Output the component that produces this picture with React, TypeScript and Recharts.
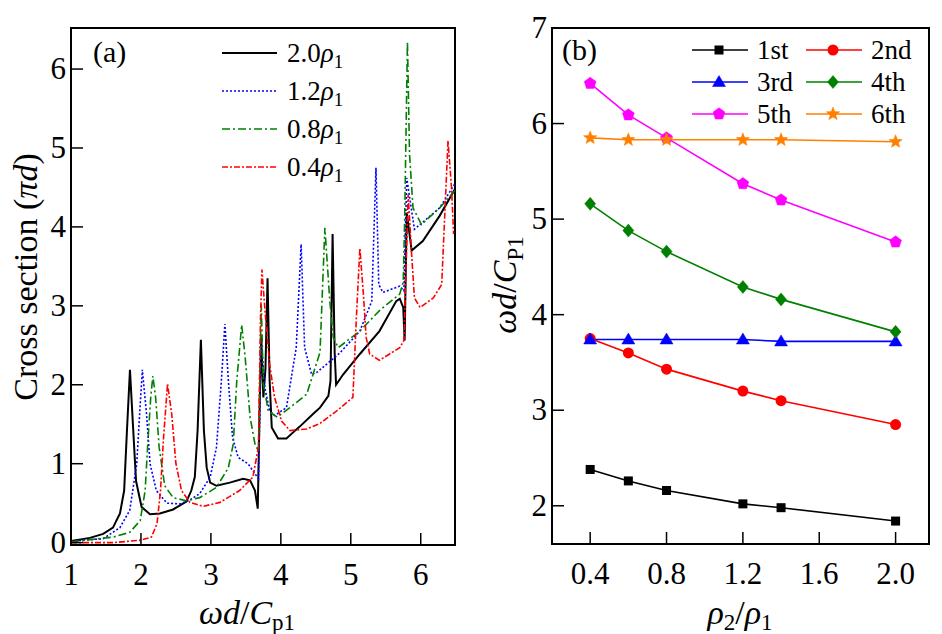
import React from "react"
import { LineChart, Line, XAxis, YAxis, ReferenceArea } from "recharts"

// ---- panel (a): cross section vs. omega d / Cp1, [x, y] pairs
const rho20 = [
    [1.0, 0.02], [1.27, 0.06], [1.46, 0.11], [1.6, 0.19], [1.7, 0.37], [1.76, 0.66], [1.8, 1.42],
    [1.843, 2.19], [1.89, 1.42], [1.93, 0.78], [2.01, 0.45], [2.13, 0.36], [2.27, 0.37], [2.46, 0.42],
    [2.65, 0.52], [2.72, 0.66], [2.77, 0.83], [2.81, 1.42], [2.857, 2.57], [2.9, 1.42], [2.94, 0.95],
    [2.99, 0.76], [3.08, 0.72], [3.27, 0.76], [3.46, 0.81], [3.56, 0.79], [3.63, 0.66], [3.67, 0.43],
    [3.7, 1.84], [3.72, 2.6], [3.75, 1.84], [3.78, 2.2], [3.81, 3.35], [3.84, 2.05], [3.87, 1.46],
    [3.96, 1.32], [4.08, 1.32], [4.18, 1.4], [4.27, 1.47], [4.46, 1.63], [4.56, 1.71], [4.68, 1.86],
    [4.71, 2.05], [4.74, 3.91], [4.77, 2.4], [4.79, 2.0], [4.89, 2.13], [5.13, 2.39], [5.41, 2.68],
    [5.65, 3.06], [5.7, 3.09], [5.75, 2.98], [5.77, 2.56], [5.8, 4.18], [5.87, 3.7], [6.03, 3.82],
    [6.27, 4.14], [6.49, 4.48],
]
const rho12 = [
    [1.0, 0.02], [1.46, 0.05], [1.7, 0.19], [1.84, 0.41], [1.94, 1.0], [1.99, 1.76], [2.02, 2.19],
    [2.08, 1.63], [2.13, 1.0], [2.22, 0.66], [2.37, 0.5], [2.56, 0.49], [2.7, 0.54], [2.84, 0.62],
    [2.99, 0.83], [3.08, 1.21], [3.15, 2.05], [3.2, 2.77], [3.25, 2.05], [3.31, 1.33], [3.39, 1.08],
    [3.53, 1.0], [3.68, 0.81], [3.72, 2.56], [3.77, 1.97], [3.84, 1.67], [3.91, 1.61], [4.08, 1.71],
    [4.22, 2.47], [4.29, 3.78], [4.34, 2.47], [4.44, 2.13], [4.52, 2.16], [4.84, 2.4], [5.13, 2.68],
    [5.3, 3.06], [5.36, 4.75], [5.4, 3.27], [5.46, 3.17], [5.7, 3.25], [5.76, 3.19], [5.8, 4.62],
    [5.91, 3.97], [5.99, 4.03], [6.27, 4.24], [6.49, 4.55],
]
const rho08 = [
    [1.0, 0.01], [1.6, 0.07], [1.84, 0.13], [1.99, 0.28], [2.06, 0.66], [2.1, 1.29], [2.14, 1.84],
    [2.17, 2.11], [2.21, 1.84], [2.26, 1.21], [2.34, 0.72], [2.46, 0.57], [2.65, 0.53], [2.84, 0.57],
    [3.08, 0.7], [3.25, 0.95], [3.32, 1.25], [3.37, 2.05], [3.44, 2.76], [3.49, 2.35], [3.56, 1.59],
    [3.63, 1.25], [3.68, 1.16], [3.72, 3.02], [3.75, 2.01], [3.82, 1.67], [3.95, 1.59], [4.13, 1.71],
    [4.37, 1.88], [4.56, 2.41], [4.63, 3.99], [4.7, 3.06], [4.75, 2.6], [4.82, 2.47], [5.13, 2.68],
    [5.41, 2.94], [5.7, 3.15], [5.75, 3.3], [5.77, 4.08], [5.81, 6.35], [5.84, 4.92], [5.89, 4.24],
    [6.01, 4.03], [6.27, 4.24], [6.49, 4.46],
]
const rho04 = [
    [1.0, 0.0], [1.6, 0.0], [1.99, 0.03], [2.15, 0.07], [2.23, 0.24], [2.28, 0.66], [2.32, 1.29],
    [2.38, 2.01], [2.44, 1.63], [2.5, 1.0], [2.58, 0.66], [2.7, 0.51], [2.89, 0.46], [3.13, 0.51],
    [3.41, 0.66], [3.6, 0.83], [3.68, 1.21], [3.71, 2.89], [3.73, 3.46], [3.77, 2.98], [3.84, 2.26],
    [3.91, 1.84], [4.01, 1.54], [4.13, 1.42], [4.37, 1.44], [4.56, 1.51], [4.8, 1.67], [5.03, 1.84],
    [5.08, 2.85], [5.13, 3.73], [5.18, 3.15], [5.22, 2.6], [5.27, 2.39], [5.41, 2.31], [5.7, 2.47],
    [5.76, 2.56], [5.82, 4.41], [5.87, 3.65], [5.91, 3.1], [5.99, 2.98], [6.18, 3.1], [6.3, 3.27],
    [6.34, 4.08], [6.39, 5.09], [6.44, 4.5], [6.47, 3.91],
]
const xTicksA = [1, 2, 3, 4, 5, 6]
const yTicksA = [0, 1, 2, 3, 4, 5, 6]

// ---- panel (b): eigen-frequencies vs. rho2/rho1
const rhoRatio = [0.4, 0.6, 0.8, 1.2, 1.4, 2.0]
const mode1 = [2.38, 2.26, 2.16, 2.02, 1.98, 1.84]
const mode2 = [3.75, 3.6, 3.43, 3.2, 3.1, 2.85]
const mode3 = [3.74, 3.74, 3.74, 3.74, 3.72, 3.72]
const mode4 = [5.16, 4.88, 4.66, 4.29, 4.16, 3.82]
const mode5 = [6.42, 6.09, 5.85, 5.37, 5.2, 4.76]
const mode6 = [5.85, 5.83, 5.83, 5.83, 5.83, 5.81]
const xTicksB = [0.4, 0.8, 1.2, 1.6, 2.0]
const xLabelsB = ["0.4", "0.8", "1.2", "1.6", "2.0"]
const yTicksB = [2, 3, 4, 5, 6, 7]

const FONT = "'Liberation Serif', 'DejaVu Serif', serif"
const TICK_FS = 31

const range = (a: number, b: number, step: number) => {
    const out: number[] = []
    for (let i = 0; a + i * step <= b + 1e-9; i++) out.push(+(a + i * step).toFixed(4))
    return out
}

const toPts = (arr: number[][]) => arr.map(([x, y]) => ({ x, y }))

const dataB = rhoRatio.map((x, i) => ({
    x, m1: mode1[i], m2: mode2[i], m3: mode3[i], m4: mode4[i], m5: mode5[i], m6: mode6[i],
}))

// label only; tick marks come from the axes' own tickLine
const BottomLabel = (props: any) => {
    const { x, y, payload, labels, majors } = props
    const idx = majors.findIndex((m: number) => Math.abs(m - payload.value) < 1e-6)
    return (
        <text x={x} y={y + 40} textAnchor="middle" fontSize={TICK_FS} fontFamily={FONT} fill="#000">
            {labels ? labels[idx] : String(payload.value)}
        </text>
    )
}

const LeftLabel = (props: any) => {
    const { x, y, payload } = props
    return (
        <text x={x - 5} y={y + 10} textAnchor="end" fontSize={TICK_FS} fontFamily={FONT} fill="#000">
            {String(payload.value)}
        </text>
    )
}

// marker glyphs used both on the lines and in the legend
function markerShape(kind: string, cx: number, cy: number, color: string, key?: any) {
    const poly = (pts: number[][]) => (
        <polygon key={key} points={pts.map(p => p.join(",")).join(" ")} fill={color} stroke={color} strokeWidth={0.5} />
    )
    switch (kind) {
        case "square":
            return <rect key={key} x={cx - 4.5} y={cy - 4.5} width={9} height={9} fill={color} />
        case "circle":
            return <circle key={key} cx={cx} cy={cy} r={5.5} fill={color} />
        case "triangle":
            return poly([[cx, cy - 6.5], [cx - 6.5, cy + 4.5], [cx + 6.5, cy + 4.5]])
        case "diamond":
            return poly([[cx, cy - 6.5], [cx + 5.5, cy], [cx, cy + 6.5], [cx - 5.5, cy]])
        case "pentagon": {
            const pts = [0, 1, 2, 3, 4].map(k => {
                const a = -Math.PI / 2 + (k * 2 * Math.PI) / 5
                return [cx + 6.2 * Math.cos(a), cy + 6.2 * Math.sin(a)]
            })
            return poly(pts)
        }
        default: {
            const pts = [] as number[][]
            for (let k = 0; k < 10; k++) {
                const a = -Math.PI / 2 + (k * Math.PI) / 5
                const r = k % 2 === 0 ? 7 : 3
                pts.push([cx + r * Math.cos(a), cy + r * Math.sin(a)])
            }
            return poly(pts)
        }
    }
}

const dotFn = (kind: string, color: string) => (p: any) => markerShape(kind, p.cx, p.cy, color, p.index)

const seriesA = [
    { name: "2.0", data: rho20, color: "#000000", dash: undefined, width: 2 },
    { name: "1.2", data: rho12, color: "#0000ff", dash: "2 2", width: 1.6 },
    { name: "0.8", data: rho08, color: "#008000", dash: "8 3 2 3", width: 1.6 },
    { name: "0.4", data: rho04, color: "#ff0000", dash: "6 2 2 2", width: 1.6 },
]

const seriesB = [
    { key: "m1", label: "1st", color: "#000000", kind: "square" },
    { key: "m2", label: "2nd", color: "#ff0000", kind: "circle" },
    { key: "m3", label: "3rd", color: "#0000ff", kind: "triangle" },
    { key: "m4", label: "4th", color: "#008000", kind: "diamond" },
    { key: "m5", label: "5th", color: "#ff00ff", kind: "pentagon" },
    { key: "m6", label: "6th", color: "#ff8000", kind: "star" },
]

const axisLine = { stroke: "#000", strokeWidth: 2 }
const tickLine = { stroke: "#000", strokeWidth: 1.5 }

// one set of axes carries the long labelled ticks, a mirrored set the short minor ones
function axesFor(xDom: number[], yDom: number[], xMaj: number[], yMaj: number[], xMin: number[], yMin: number[],
    xH: number, yW: number, xLabels?: string[]) {
    return [
        <XAxis key="x" dataKey="x" type="number" domain={xDom} allowDataOverflow height={xH}
            ticks={xMaj} interval={0} tickLine={tickLine} tickSize={-12} tickMargin={12}
            axisLine={axisLine} tick={(p: any) => <BottomLabel {...p} majors={xMaj} labels={xLabels} />} />,
        <YAxis key="y" type="number" domain={yDom} allowDataOverflow width={yW}
            ticks={yMaj} interval={0} tickLine={tickLine} tickSize={-12} tickMargin={12}
            axisLine={axisLine} tick={(p: any) => <LeftLabel {...p} />} />,
        <XAxis key="xm" xAxisId="minor" dataKey="x" type="number" domain={xDom} allowDataOverflow
            mirror height={1} ticks={xMin} interval={0} tickLine={tickLine} tickSize={6}
            axisLine={false} tick={false} />,
        <YAxis key="ym" yAxisId="minor" type="number" domain={yDom} allowDataOverflow
            mirror width={1} ticks={yMin} interval={0} tickLine={tickLine} tickSize={6}
            axisLine={false} tick={false} />,
        <ReferenceArea key="frame" x1={xDom[0]} x2={xDom[1]} y1={yDom[0]} y2={yDom[1]} fill="none"
            stroke="#000" strokeWidth={2} ifOverflow="visible" />,
    ]
}

export default function App() {
    return (
        <div style={{ position: "absolute", left: 0, top: 0, width: 942, height: 634, background: "#fff" }}>
            <div style={{ position: "absolute", left: 0, top: 0 }}>
                <LineChart width={470} height={634} margin={{ top: 28, right: 15, bottom: 0, left: 0 }}>
                    {axesFor([1, 6.49], [-0.03, 6.52], xTicksA, yTicksA, range(1.2, 6.4, 0.2),
                        range(0.2, 6.4, 0.2), 89, 71)}
                    {seriesA.map(s => (
                        <Line key={s.name} data={toPts(s.data)} dataKey="y" type="linear" stroke={s.color}
                            strokeWidth={s.width} strokeDasharray={s.dash} dot={false} isAnimationActive={false} />
                    ))}
                </LineChart>
            </div>
            <div style={{ position: "absolute", left: 480, top: 0 }}>
                <LineChart width={462} height={634} data={dataB} margin={{ top: 28, right: 13, bottom: 0, left: 0 }}>
                    {axesFor([0.2, 2.175], [1.6, 7], xTicksB, yTicksB, range(0.3, 2.1, 0.1),
                        range(1.8, 6.8, 0.2), 90, 72, xLabelsB)}
                    {seriesB.map(s => (
                        <Line key={s.key} dataKey={s.key} type="linear" stroke={s.color} strokeWidth={1.6}
                            dot={dotFn(s.kind, s.color)} isAnimationActive={false} />
                    ))}
                </LineChart>
            </div>
            <svg width={942} height={634} style={{ position: "absolute", left: 0, top: 0, pointerEvents: "none" }}
                fontFamily={FONT} fill="#000">
                {/* panel (a) texts */}
                <text x={93} y={62} fontSize={30}>(a)</text>
                {seriesA.map((s, i) => {
                    const y = 53 + i * 38
                    return (
                        <g key={s.name}>
                            <line x1={222} x2={277} y1={y} y2={y} stroke={s.color} strokeWidth={s.width}
                                strokeDasharray={s.dash} />
                            <text x={287} y={y + 9} fontSize={27}>
                                {s.name}<tspan fontStyle="italic">ρ</tspan>
                                <tspan fontSize={19} dy={6}>1</tspan>
                            </text>
                        </g>
                    )
                })}
                <text transform="translate(37,277) rotate(-90)" textAnchor="middle" fontSize={34}>
                    Cross section (<tspan fontStyle="italic">πd</tspan>)
                </text>
                <text x={247} y={624} textAnchor="middle" fontSize={34}>
                    <tspan fontStyle="italic">ωd</tspan>/<tspan fontStyle="italic">C</tspan>
                    <tspan fontSize={23} dy={6}>p1</tspan>
                </text>

                {/* panel (b) texts */}
                <text x={562} y={60} fontSize={30}>(b)</text>
                {seriesB.map((s, i) => {
                    const col = i % 2
                    const row = Math.floor(i / 2)
                    const y = 50 + row * 32
                    const x0 = col === 0 ? 692 : 806
                    return (
                        <g key={s.key}>
                            <line x1={x0} x2={x0 + 56} y1={y} y2={y} stroke={s.color} strokeWidth={1.6} />
                            {markerShape(s.kind, x0 + 27, y, s.color)}
                            <text x={x0 + 65} y={y + 9} fontSize={27}>{s.label}</text>
                        </g>
                    )
                })}
                <text transform="translate(516,285) rotate(-90)" textAnchor="middle" fontSize={34}>
                    <tspan fontStyle="italic">ωd</tspan>/<tspan fontStyle="italic">C</tspan>
                    <tspan fontSize={23} dy={7}>P1</tspan>
                </text>
                <text x={740} y={624} textAnchor="middle" fontSize={34}>
                    <tspan fontStyle="italic">ρ</tspan><tspan fontSize={23} dy={6}>2</tspan>
                    <tspan dy={-6}>/</tspan><tspan fontStyle="italic">ρ</tspan>
                    <tspan fontSize={23} dy={6}>1</tspan>
                </text>
            </svg>
        </div>
    )
}
